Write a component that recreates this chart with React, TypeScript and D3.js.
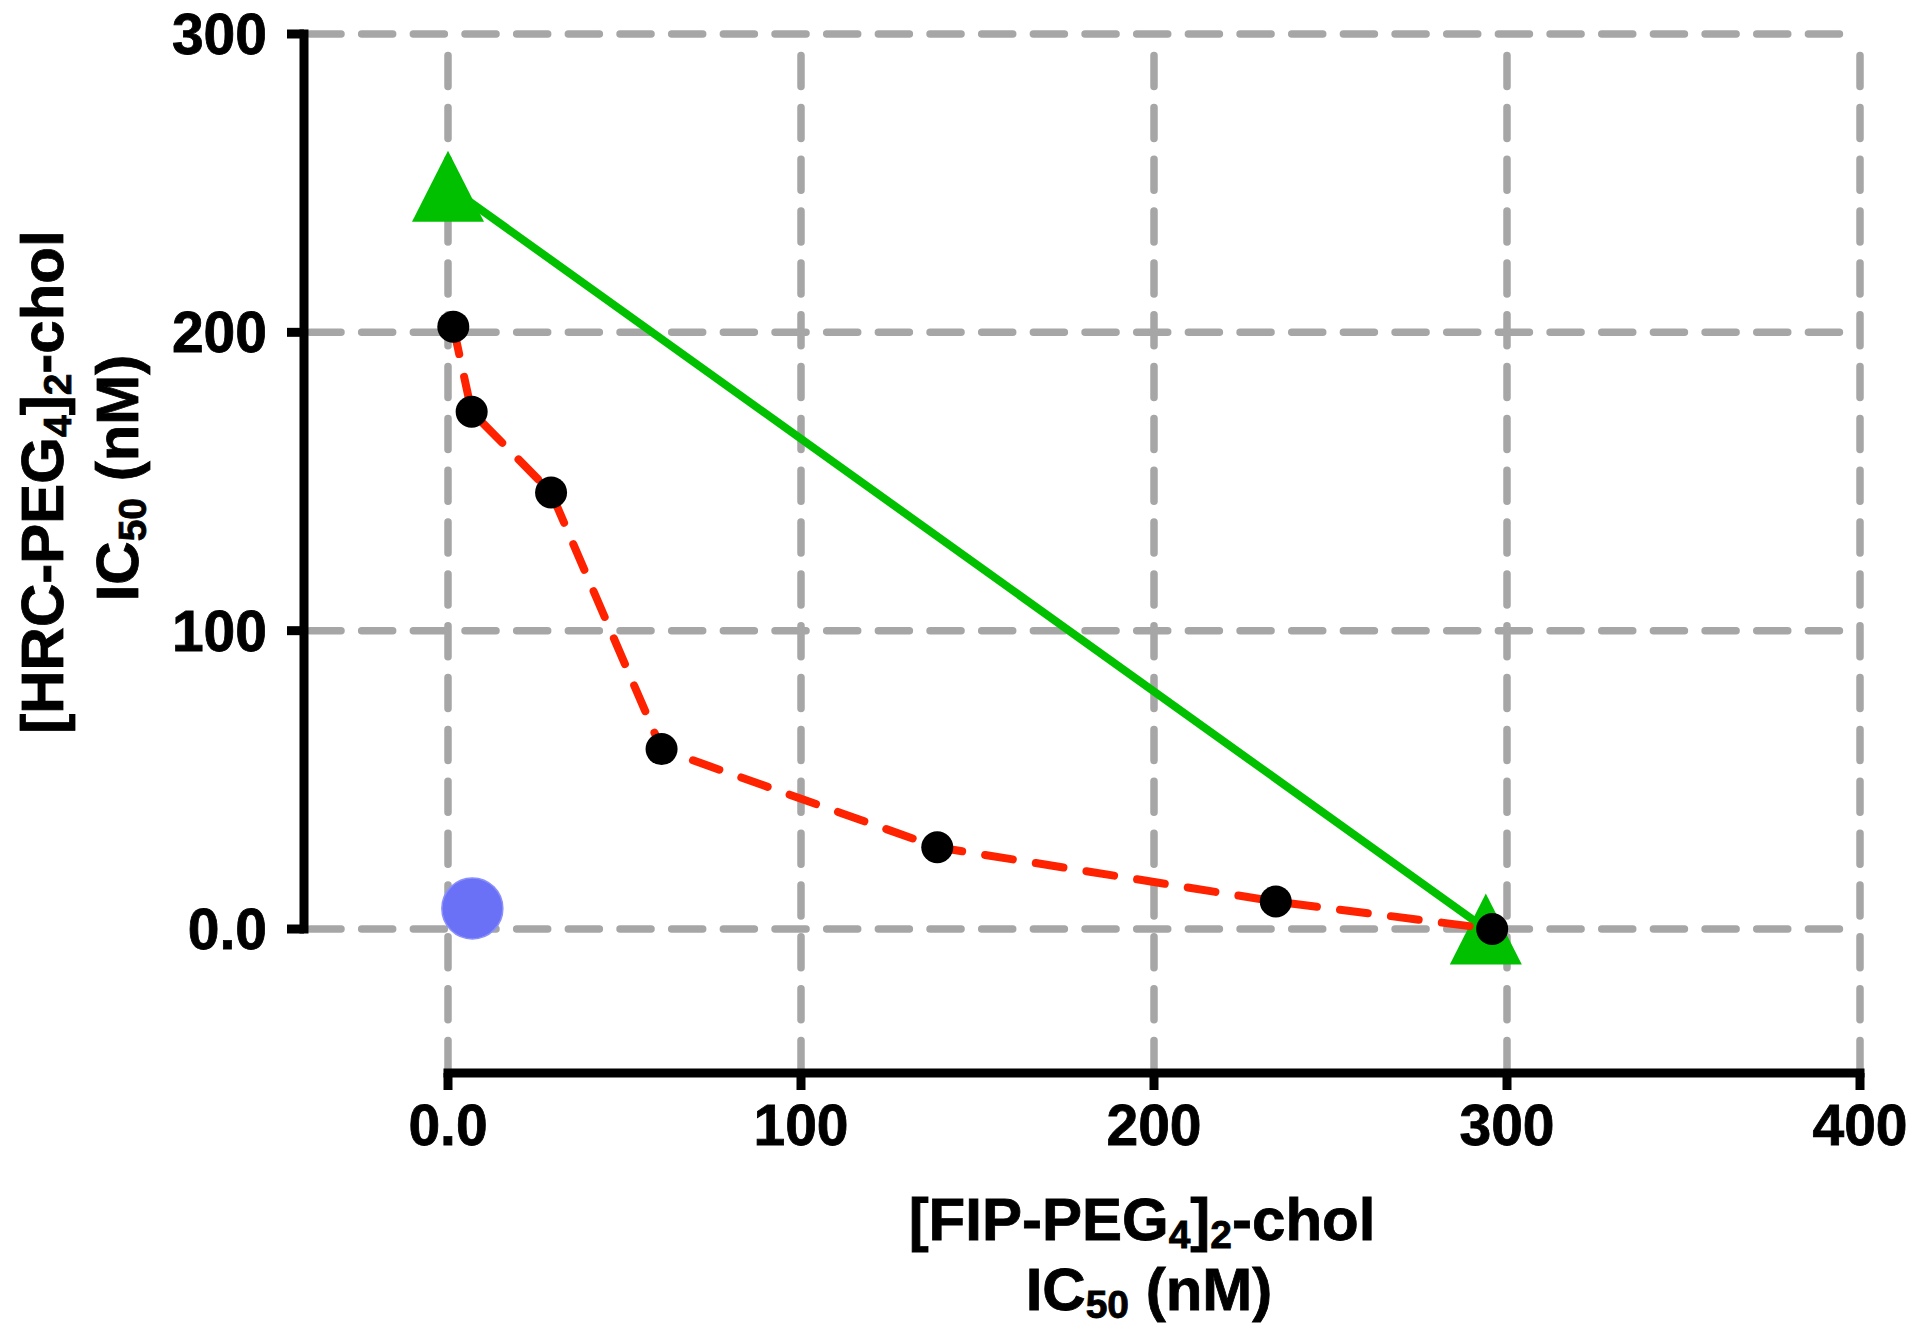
import React from "react";
import * as d3 from "d3";

// ---- data ----
const xTicks = [0, 100, 200, 300, 400];
const yTicks = [0, 100, 200, 300];
const xTickLabels = ["0.0", "100", "200", "300", "400"];
const yTickLabels = ["0.0", "100", "200", "300"];

// isobologram experimental points (black dots, red dashed line)
const comboX = [1.5, 6.7, 29.2, 60.5, 138.6, 234.5, 295.8];
const comboY = [201.9, 173.4, 146.3, 60.3, 27.4, 9.2, 0];

// additivity line (green triangles)
const additiveX = [0, 294];
const additiveY = [249, 0];

// single blue point
const blueX = [6.9];
const blueY = [6.9];

const W = 1920;
const H = 1339;

export default function App() {
  const x = d3.scaleLinear().domain([0, 400]).range([448, 1860]);
  const y = d3.scaleLinear().domain([0, 300]).range([929, 34]);
  const yAxisX = 304;
  const xAxisY = 1073;

  const font = "'Liberation Sans', Arial, Helvetica, sans-serif";
  const grid = "#a6a6a6";

  const line = d3
    .line<[number, number]>()
    .x((d) => x(d[0]))
    .y((d) => y(d[1]));

  const comboPts: [number, number][] = comboX.map((v, i) => [v, comboY[i]]);
  const addPts: [number, number][] = additiveX.map((v, i) => [v, additiveY[i]]);

  const triW = 72;
  const triH = 71;
  const triPath = (cx: number, cy: number) =>
    `M${cx},${cy - triH / 2}L${cx + triW / 2},${cy + triH / 2}L${cx - triW / 2},${cy + triH / 2}Z`;

  return (
    <div style={{ position: "absolute", left: 0, top: 0 }}>
      <svg width={W} height={H} viewBox={`0 0 ${W} ${H}`} style={{ display: "block", background: "#fff" }}>
        <rect x={0} y={0} width={W} height={H} fill="#fff" />
        {/* grid */}
        <g stroke={grid} strokeWidth={7.5} strokeLinecap="round" fill="none">
          {yTicks.map((t) => (
            <line key={"h" + t} x1={310} x2={x(400)} y1={y(t)} y2={y(t)} strokeDasharray="31 20.67" />
          ))}
          {xTicks.map((t) => (
            <line key={"v" + t} x1={x(t)} x2={x(t)} y1={1071.5} y2={y(300) + 14} strokeDasharray="31 20.84" />
          ))}
        </g>

        {/* axes */}
        <g stroke="#000" strokeWidth={9} fill="none">
          <line x1={yAxisX} x2={yAxisX} y1={y(300)} y2={y(0)} strokeLinecap="square" />
          {yTicks.map((t) => (
            <line key={"yt" + t} x1={yAxisX - 17} x2={yAxisX} y1={y(t)} y2={y(t)} />
          ))}
          <line x1={x(0)} x2={x(400)} y1={xAxisY} y2={xAxisY} strokeLinecap="square" />
          {xTicks.map((t) => (
            <line key={"xt" + t} x1={x(t)} x2={x(t)} y1={xAxisY} y2={xAxisY + 17} />
          ))}
        </g>

        {/* tick labels */}
        <g fontFamily={font} fontWeight="bold" fontSize={57} fill="#000" stroke="#000" strokeWidth={0.8}>
          {yTicks.map((t, i) => (
            <text key={"yl" + t} x={267} y={y(t) + 20} textAnchor="end">
              {yTickLabels[i]}
            </text>
          ))}
          {xTicks.map((t, i) => (
            <text key={"xl" + t} x={x(t)} y={1145} textAnchor="middle">
              {xTickLabels[i]}
            </text>
          ))}
        </g>

        {/* green additivity line + triangles */}
        <path d={line(addPts) || ""} stroke="#00c000" strokeWidth={8} fill="none" />
        {addPts.map((p, i) => (
          <path key={"tri" + i} d={triPath(x(p[0]), y(p[1]))} fill="#00c000" />
        ))}

        {/* blue point */}
        {blueX.map((v, i) => (
          <circle key={"b" + i} cx={x(v)} cy={y(blueY[i])} r={30.5} fill="#6a71f7" stroke="#8a90fb" strokeWidth={1.5} />
        ))}

        {/* red dashed combination line */}
        <path
          d={line(comboPts) || ""}
          stroke="#ff2200"
          strokeWidth={8}
          fill="none"
          strokeDasharray="28 23.3"
          strokeLinecap="round"
          strokeLinejoin="round"
        />
        {comboPts.map((p, i) => (
          <circle key={"c" + i} cx={x(p[0])} cy={y(p[1])} r={16} fill="#000" />
        ))}

        {/* axis titles */}
        <g fontFamily={font} fontWeight="bold" fontSize={60} fill="#000" stroke="#000" strokeWidth={0.8}>
          <text x={1142} y={1240} textAnchor="middle">
            [FIP-PEG<tspan fontSize={39} dy={8}>4</tspan>
            <tspan dy={-8}>]</tspan>
            <tspan fontSize={39} dy={8}>2</tspan>
            <tspan dy={-8}>-chol</tspan>
          </text>
          <text x={1149} y={1310} textAnchor="middle">
            IC<tspan fontSize={39} dy={8}>50</tspan>
            <tspan dy={-8}> (nM)</tspan>
          </text>
          <text transform="translate(63,482) rotate(-90)" textAnchor="middle">
            [HRC-PEG<tspan fontSize={39} dy={8}>4</tspan>
            <tspan dy={-8}>]</tspan>
            <tspan fontSize={39} dy={8}>2</tspan>
            <tspan dy={-8}>-chol</tspan>
          </text>
          <text transform="translate(138,478) rotate(-90)" textAnchor="middle">
            IC<tspan fontSize={39} dy={8}>50</tspan>
            <tspan dy={-8}> (nM)</tspan>
          </text>
        </g>
      </svg>
    </div>
  );
}
